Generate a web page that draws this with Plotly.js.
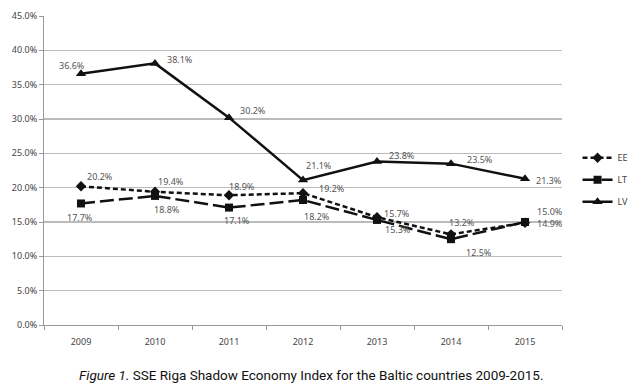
<!DOCTYPE html>
<html>
<head>
<meta charset="utf-8">
<script src="https://cdn.plot.ly/plotly-3.0.1.min.js"></script>
<style>html,body{margin:0;padding:0;background:#fff;}#chart{width:631px;height:385px;}</style>
</head>
<body>
<div id="chart"></div>
<script>
const years = ['2009','2010','2011','2012','2013','2014','2015'];
const EE = [20.2, 19.4, 18.9, 19.2, 15.7, 13.2, 14.9];
const LT = [17.7, 18.8, 17.1, 18.2, 15.3, 12.5, 15.0];
const LV = [36.6, 38.1, 30.2, 21.1, 23.8, 23.5, 21.3];
const yTicks = [0, 5, 10, 15, 20, 25, 30, 35, 40, 45];

// label offsets (pixels) per series: [xshift, yshift]
const eeShift = [[19,10],[16,10],[13,9],[29,5],[20,4],[11,12],[25,-1]];
const ltShift = [[-1,-14],[12,-14],[8,-13],[14,-16],[21,-10],[28,-13],[25,11]];
const lvShift = [[-9,8],[25,4],[24,7],[16,15],[25,6],[29,4],[24,-2]];

function tr(name, y, dash, symbol, size) {
  return {
    x: years, y: y, name: name, type: 'scatter', mode: 'lines+markers',
    legendgroup: name,
    line: {color: '#111', width: 2.5, dash: dash},
    marker: {symbol: symbol, size: size, color: '#111'},
    hoverinfo: 'skip'
  };
}
const data = [
  tr('EE', EE, '5px,3px', 'diamond', 8),
  tr('LT', LT, '14px,5px', 'square', 8),
  tr('LV', LV, 'solid', 'triangle-up', 9)
];

const annotations = [];
function addLabels(vals, shifts) {
  vals.forEach((v, i) => {
    annotations.push({
      x: i, y: v, xref: 'x', yref: 'y',
      text: v.toFixed(1) + '%', showarrow: false,
      xshift: shifts[i][0], yshift: shifts[i][1],
      font: {family: 'Noto Sans, sans-serif', size: 9, color: '#555'}
    });
  });
}
addLabels(EE, eeShift);
addLabels(LT, ltShift);
addLabels(LV, lvShift);
annotations.push({
  xref: 'paper', yref: 'paper', x: 0.515, y: -0.163, yanchor: 'middle', xanchor: 'center',
  showarrow: false,
  text: '<i>Figure 1.</i> SSE Riga Shadow Economy Index for the Baltic countries 2009-2015.',
  font: {family: 'Roboto, sans-serif', size: 13.5, color: '#111'}
});

const layout = {
  width: 631, height: 385,
  margin: {l: 44, r: 69, t: 16, b: 60, autoexpand: false},
  paper_bgcolor: '#fff', plot_bgcolor: '#fff',
  showlegend: true,
  legend: {x: 1.03, xanchor: 'left', y: 0.47, yanchor: 'middle',
           font: {family: 'Noto Sans, sans-serif', size: 9, color: '#444'},
           tracegroupgap: 3, itemwidth: 30, bgcolor: 'rgba(0,0,0,0)'},
  xaxis: {
    type: 'category', range: [-0.5, 6.5], tickson: 'boundaries',
    ticks: 'outside', ticklen: 4, tickcolor: '#999',
    showline: true, linecolor: '#999', linewidth: 1,
    showgrid: false, zeroline: false, ticklabelstandoff: 8,
    tickfont: {family: 'Noto Sans, sans-serif', size: 9, color: '#444'}
  },
  yaxis: {
    range: [0, 45], tickvals: yTicks, ticktext: yTicks.map(v => v.toFixed(1) + '%'),
    ticks: 'outside', ticklen: 4, tickcolor: '#999',
    showline: true, linecolor: '#999', linewidth: 1,
    showgrid: true, gridcolor: '#bbb', gridwidth: 1.5, zeroline: false,
    tickfont: {family: 'Noto Sans, sans-serif', size: 9, color: '#444'}
  },
  annotations: annotations
};
Plotly.newPlot('chart', data, layout, {displayModeBar: false, staticPlot: true});
</script>
</body>
</html>
